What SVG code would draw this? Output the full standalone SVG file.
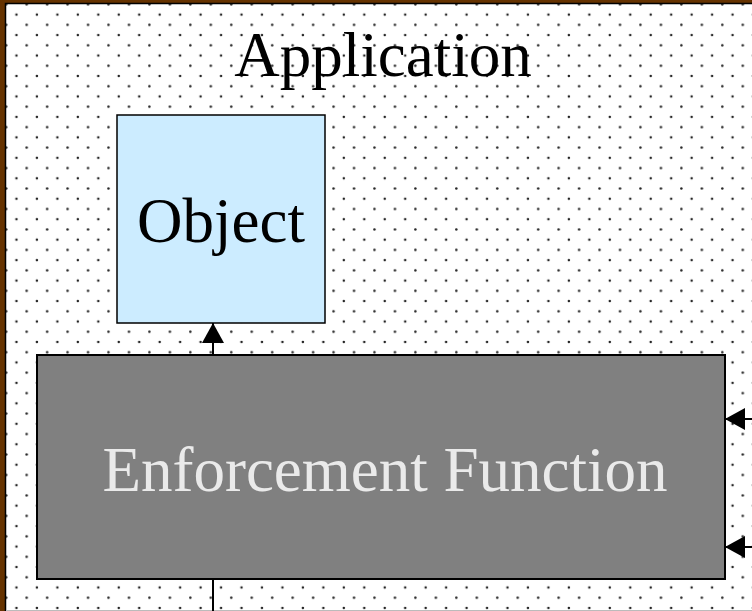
<svg xmlns="http://www.w3.org/2000/svg" width="752" height="611" viewBox="0 0 752 611">
  <defs>
    <pattern id="dots" patternUnits="userSpaceOnUse" x="0" y="0" width="20.46" height="20.46">
      <circle cx="6.2" cy="4.3" r="1.25" fill="#222"/>
      <circle cx="16.45" cy="14.53" r="1.25" fill="#222"/>
    </pattern>
    <marker id="arrow" viewBox="0 0 20 22" refX="20" refY="11" markerWidth="20" markerHeight="22" markerUnits="userSpaceOnUse" orient="auto">
      <path d="M0,0 L20,11 L0,22 Z" fill="#000"/>
    </marker>
    <style>
      .lbl { font-family: "Liberation Serif", "Times New Roman", serif; font-size: 63px; text-anchor: middle; }
      .conn { stroke: #000; stroke-width: 2; fill: none; }
    </style>
  </defs>
  <rect x="0" y="0" width="752" height="611" fill="#663300"/>
  <g id="application">
    <rect x="5.5" y="3.5" width="760" height="620" fill="#fff" stroke="#000" stroke-width="1.5"/>
    <rect x="6" y="4" width="746" height="606" fill="url(#dots)"/>
    <line x1="6" y1="610.5" x2="752" y2="610.5" stroke="#bbb" stroke-width="1"/>
    <text class="lbl" x="383" y="76" fill="#000">Application</text>
  </g>
  <g id="connectors">
    <line class="conn" x1="213" y1="355" x2="213" y2="323" marker-end="url(#arrow)"/>
    <line class="conn" x1="752" y1="419" x2="725" y2="419" marker-end="url(#arrow)"/>
    <line class="conn" x1="752" y1="547" x2="725" y2="547" marker-end="url(#arrow)"/>
    <line class="conn" x1="213" y1="579" x2="213" y2="611"/>
  </g>
  <g id="object">
    <rect x="117" y="115" width="208" height="208" fill="#CCECFF" stroke="#000" stroke-width="1.5"/>
    <text class="lbl" x="221" y="242" fill="#000">Object</text>
  </g>
  <g id="enforcement">
    <rect x="37" y="355" width="688" height="224" fill="#808080" stroke="#000" stroke-width="2"/>
    <text class="lbl" x="385" y="491" fill="#EAEAEA">Enforcement Function</text>
  </g>
</svg>
